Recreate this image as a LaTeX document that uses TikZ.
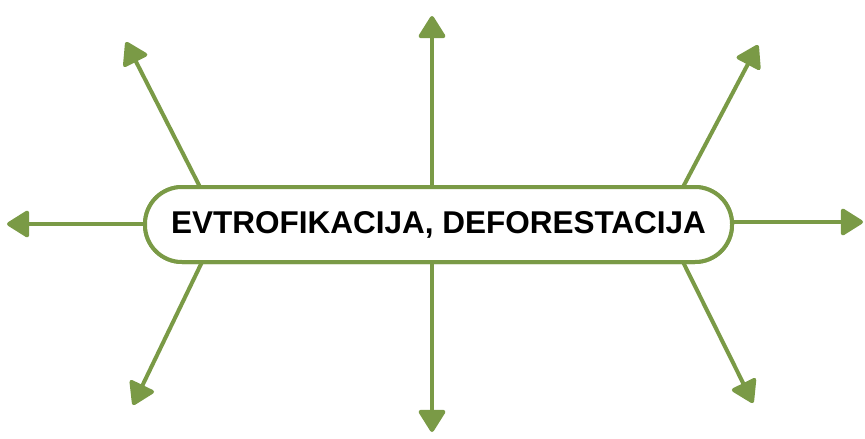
\documentclass[tikz,border=0pt]{standalone}
\usepackage{fontspec}
\setmainfont{Liberation Sans}
\usetikzlibrary{arrows.meta}
\definecolor{leaf}{HTML}{7A9A46}
\begin{document}
\begin{tikzpicture}[x=1pt,y=-1pt,
  hub/.style={draw=leaf, line width=4pt, rounded corners=37pt, fill=white,
    minimum width=587pt, minimum height=75pt, inner sep=0pt,
    font=\fontsize{31.5}{36}\selectfont\bfseries},
  ray/.style={draw=leaf, line width=4pt, line cap=round,
    -{Triangle[length=24pt,width=29pt,round]}, leaf}]
\useasboundingbox (0,0) rectangle (865,439);
\node[hub] (c) at (438.5,224.5) {EVTROFIKACIJA, DEFORESTACIJA};
% start points on the border
\coordinate (sT) at (432,187);
\coordinate (sB) at (432,262);
\coordinate (sL) at (145,224);
\coordinate (sR) at (732,222);
\coordinate (sUL) at (200,187);
\coordinate (sLL) at (202,262);
\coordinate (sUR) at (683,187);
\coordinate (sLR) at (683,262);
% tips
\coordinate (tT) at (432,16);
\coordinate (tB) at (432,432);
\coordinate (tL) at (7,224);
\coordinate (tR) at (863,222);
\coordinate (tUL) at (126,42);
\coordinate (tLL) at (133,405);
\coordinate (tUR) at (758,45);
\coordinate (tLR) at (753,403);
\foreach \s/\t in {sT/tT,sB/tB,sL/tL,sR/tR,sUL/tUL,sLL/tLL,sUR/tUR,sLR/tLR}
  \draw[ray] (\s) -- (\t);
\node[hub] at (c.center) {EVTROFIKACIJA, DEFORESTACIJA};
\end{tikzpicture}
\end{document}
